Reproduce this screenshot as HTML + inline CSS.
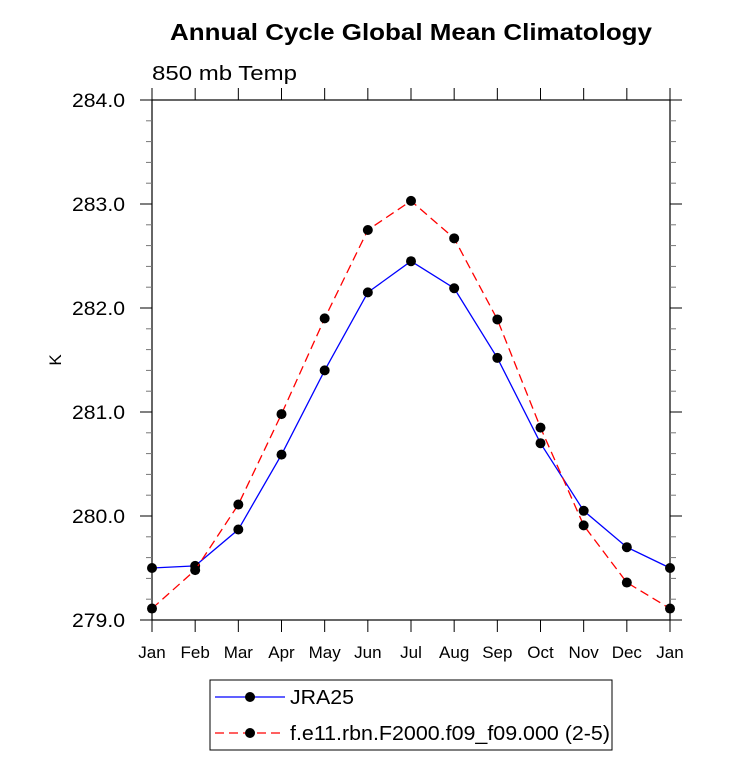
<!DOCTYPE html>
<html><head><meta charset="utf-8"><style>
body{margin:0;background:#fff;}
svg text{font-family:"Liberation Sans",Arial,sans-serif;}
</style></head><body>
<svg width="733" height="770" xmlns="http://www.w3.org/2000/svg" id="c">
<text x="170" y="40" font-size="23" font-weight="bold" textLength="482" lengthAdjust="spacingAndGlyphs">Annual Cycle Global Mean Climatology</text>
<text x="152" y="80" font-size="20" textLength="145" lengthAdjust="spacingAndGlyphs">850 mb Temp</text>
<text x="61" y="360" font-size="17" text-anchor="middle" transform="rotate(-90 61 360)">K</text>
<g id="axes"></g>
<g id="marks"></g>
<rect x="210" y="680" width="402" height="70" fill="none" stroke="#000" stroke-width="1"/>
<line x1="215" y1="697" x2="285" y2="697" stroke="#00f" stroke-width="1.3"/>
<circle cx="250" cy="697" r="5" fill="#000"/>
<text x="290" y="704" font-size="20" textLength="64" lengthAdjust="spacingAndGlyphs">JRA25</text>
<line x1="215" y1="733" x2="285" y2="733" stroke="#f00" stroke-width="1.3" stroke-dasharray="9,5"/>
<circle cx="250" cy="733" r="5" fill="#000"/>
<text x="290" y="740" font-size="20" textLength="320" lengthAdjust="spacingAndGlyphs">f.e11.rbn.F2000.f09_f09.000 (2-5)</text>
</svg>
<script>
const months=["Jan","Feb","Mar","Apr","May","Jun","Jul","Aug","Sep","Oct","Nov","Dec","Jan"];
const jra25=[279.50,279.52,279.87,280.59,281.40,282.15,282.45,282.19,281.52,280.70,280.05,279.70,279.50];
const model=[279.11,279.48,280.11,280.98,281.90,282.75,283.03,282.67,281.89,280.85,279.91,279.36,279.11];
const yTicks=["279.0","280.0","281.0","282.0","283.0","284.0"];
const L=152,R=670,T=100,B=620,ymin=279,ymax=284;
const x=i=>L+(R-L)*i/(months.length-1);
const y=v=>B-(v-ymin)/(ymax-ymin)*(B-T);
const NS="http://www.w3.org/2000/svg";
function mk(p,tag,a){const e=document.createElementNS(NS,tag);for(const k in a)e.setAttribute(k,a[k]);p.appendChild(e);return e;}
const ax=document.getElementById('axes'),mg=document.getElementById('marks');
const frame=mk(ax,'rect',{x:L,y:T,width:R-L,height:B-T,fill:'none',stroke:'#000','stroke-width':1.2});


months.forEach((m,i)=>{
  const xx=x(i);
  const t1=mk(ax,'line',{x1:xx,y1:B,x2:xx,y2:B+12,stroke:'#000'});
  
  
  const t2=mk(ax,'line',{x1:xx,y1:T,x2:xx,y2:T-12,stroke:'#000'});
  
  
  const tx=mk(ax,'text',{x:xx,y:B+38,'text-anchor':'middle','font-size':17});
  tx.textContent=m;
  
  
});
for(let v=ymin;v<=ymax+1e-9;v+=0.2){
  const yy=y(v);const maj=Math.abs(v-Math.round(v))<1e-6;const len=maj?12:6;
  const a=mk(ax,'line',{x1:L-len,y1:yy,x2:L,y2:yy,stroke:maj?'#000':'#777'});
  
  
  const b=mk(ax,'line',{x1:R,y1:yy,x2:R+len,y2:yy,stroke:maj?'#000':'#777'});
  
  
}
yTicks.forEach(s=>{
  const t=mk(ax,'text',{x:L-80,y:y(parseFloat(s))+7,'font-size':19,textLength:53,lengthAdjust:'spacingAndGlyphs'});
  t.textContent=s;
  
  
});
function series(vals,color,dash,name){
  const pl=mk(mg,'polyline',{points:vals.map((v,i)=>x(i)+','+y(v)).join(' '),fill:'none',stroke:color,'stroke-width':1.3,'stroke-dasharray':dash});
  
  
  vals.forEach((v,i)=>{
    const c=mk(mg,'circle',{cx:x(i),cy:y(v),r:5,fill:'#000'});
    
    
  });
}
series(jra25,'#00f','none','jra25');
series(model,'#f00','9,5','model');
</script>
</body></html>
